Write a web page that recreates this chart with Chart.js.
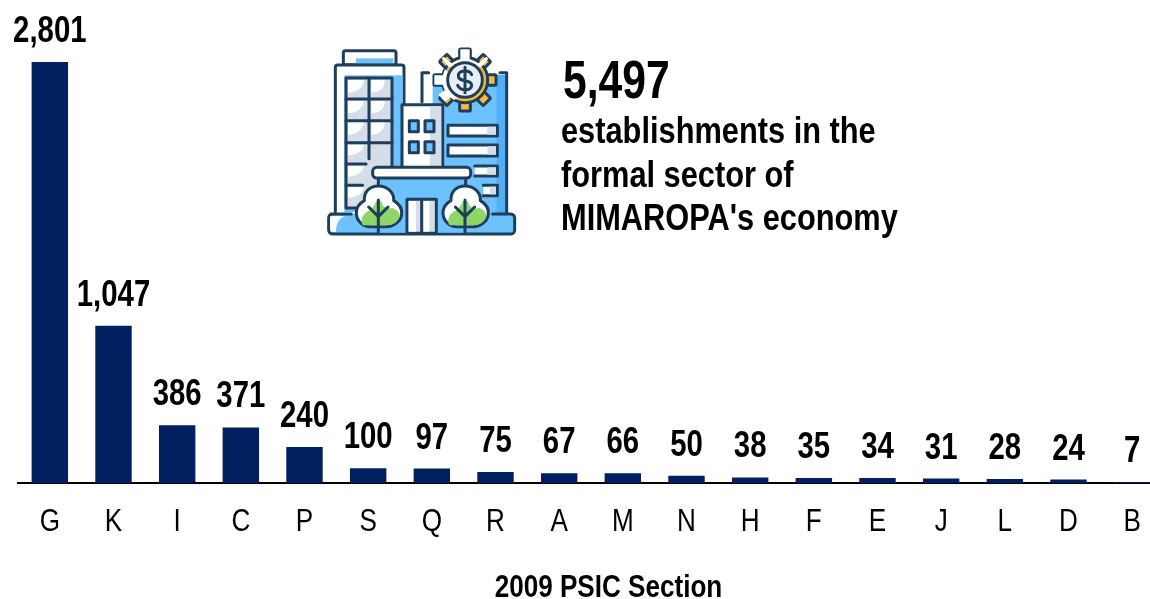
<!DOCTYPE html>
<html><head><meta charset="utf-8">
<script src="https://cdn.jsdelivr.net/npm/chart.js@4"></script>
<style>
html,body{margin:0;padding:0;background:#fff;overflow:hidden;width:1150px;height:599px}
#wrap{position:absolute;left:0;top:0;width:1150px;height:599px;overflow:hidden}
#c{position:absolute;left:0;top:0}
.t{position:absolute;font-family:"Liberation Sans",Arial,sans-serif;font-weight:700;color:#000;white-space:nowrap;transform-origin:0 0}
#icon{position:absolute;left:310px;top:30px;width:220px;height:220px}
</style></head><body><div id="wrap">
<canvas id="c" width="1164" height="607"></canvas>
<svg id="icon" viewBox="0 0 660 660" fill="none" stroke="#1d3f5c" stroke-width="9" stroke-linejoin="round" stroke-linecap="round">
  <defs>
    <g id="tree">
      <path d="M205 468c-28 0-44 20-42 44-16 8-26 24-24 40 2 22 20 38 42 38h48c22 0 44-16 46-38 2-18-10-32-24-40 2-24-18-44-46-44z" fill="#fff"/>
      <path d="M160 586c-10-8-6-30 10-40 18-8 26-24 28-32h16c4 20 16 24 34 20 14 6 24 16 20 28-6 16-20 24-38 24z" fill="#8fd668" stroke="none"/>
      <path d="M205 510V608M205 560l-29-29M205 560l29-29"/>
    </g>
    <rect id="tooth" x="-16" y="-93" width="32" height="34" rx="3" fill="#fdb93b"/>
  </defs>
  <!-- right building -->
  <rect x="368" y="135" width="220" height="420" fill="#6dc1fd" stroke="none"/>
  <rect x="560" y="135" width="28" height="420" fill="#52aef7" stroke="none"/>
  <path d="M336 215V128H356M570 128H590V552"/>
  <!-- tower -->
  <rect x="100" y="62" width="158" height="42" rx="6" fill="#fff"/>
  <rect x="138" y="85" width="112" height="16" fill="#6dc1fd" stroke="none"/>
  <path d="M76 545V112a7 7 0 0 1 7-7H275a7 7 0 0 1 7 7V218" fill="#fff"/>
  <rect x="103" y="136" width="175" height="410" fill="#6dc1fd" stroke="none"/>
  <rect x="108" y="144" width="138" height="390" fill="#d5dee8"/>
  <path d="M114 150h48c-4 26-20 36-48 38zM184 150h40c0 26-14 36-40 38zM114 212h48c-4 24-20 36-48 38zM184 212h40c0 24-14 36-40 38zM114 276h48c-4 24-20 36-48 38zM184 276h40c0 24-14 36-40 38zM114 344h48c-4 20-20 30-48 32zM114 408h48c-4 20-20 30-48 32zM114 472h48c-4 20-20 30-48 32z" fill="#fff" stroke="none"/>
  <path d="M108 207H246M108 272H246M108 338H246M108 402H168M108 466H158M177 144V386"/>
  <!-- middle block -->
  <rect x="276" y="224" width="122" height="190" fill="#fff"/>
  <rect x="360" y="229" width="34" height="182" fill="#d5dee8" stroke="none"/>
  <rect x="298" y="272" width="27" height="33" fill="#6dc1fd"/><rect x="345" y="272" width="27" height="33" fill="#6dc1fd"/>
  <rect x="298" y="335" width="27" height="33" fill="#6dc1fd"/><rect x="345" y="335" width="27" height="33" fill="#6dc1fd"/>
  <!-- strips -->
  <rect x="414" y="286" width="148" height="32" fill="#fff"/><rect x="532" y="290" width="26" height="24" fill="#d5dee8" stroke="none"/>
  <rect x="414" y="345" width="148" height="33" fill="#fff"/><rect x="532" y="349" width="26" height="25" fill="#d5dee8" stroke="none"/>
  <path d="M494 408H562V438H494" fill="#fff"/><rect x="532" y="412" width="26" height="22" fill="#d5dee8" stroke="none"/>
  <path d="M520 466H562V497H520" fill="#fff"/><rect x="540" y="470" width="18" height="23" fill="#d5dee8" stroke="none"/>
  <!-- base -->
  <path d="M62 552h62M548 552h54a12 12 0 0 1 12 12v36a12 12 0 0 1-12 12H68a12 12 0 0 1-12-12v-36a12 12 0 0 1 12-12" fill="#6dc1fd"/>
  <path d="M62 558H105C82 566 78 590 78 606H68a8 8 0 0 1-8-8V566a8 8 0 0 1 2-8z" fill="#fff" stroke="none"/>
  <rect x="205" y="445" width="262" height="163" fill="#6dc1fd" stroke="none"/>
  <path d="M205 445V465M467 445V465"/>
  <!-- canopy -->
  <rect x="188" y="412" width="294" height="32" rx="12" fill="#fff"/>
  <!-- door -->
  <rect x="291" y="508" width="88" height="102" fill="#d5dee8"/>
  <rect x="296" y="513" width="22" height="92" fill="#fff" stroke="none"/>
  <rect x="340" y="513" width="18" height="92" fill="#fff" stroke="none"/>
  <path d="M335 508V610"/>
  <use href="#tree"/><use href="#tree" x="260"/>
  <!-- gear -->
  <g transform="translate(465,150)">
    <use href="#tooth"/><use href="#tooth" transform="rotate(45)"/><use href="#tooth" transform="rotate(90)"/><use href="#tooth" transform="rotate(135)"/>
    <use href="#tooth" transform="rotate(180)"/><use href="#tooth" transform="rotate(225)"/><use href="#tooth" transform="rotate(270)"/><use href="#tooth" transform="rotate(315)"/>
    <circle r="68" fill="#fdb93b"/>
    <path d="M-60-32A68 68 0 0 0-32 60L-20 50A52 52 0 0 1-48-20z" fill="#fff" stroke="none"/>
    <path d="M-14-92H14V-62L40-50 64-70 70-64 50-40-50-40-70-64-64-70-40-50-14-62zM-92-14V14H-62V-14zM-80 44-60 64-40 50-60 30z" fill="#fff" stroke="none"/>
    <circle r="52" fill="#e8eef4"/>
    <path d="M20-16C14-32-20-30-20-12c0 20 40 8 40 28C20 34-14 34-22 16M0-38V38"/>
  </g>
</svg>
<div class="t" id="big" style="left:563px;top:49px;font-size:54px;line-height:60px;transform:scaleX(.79)">5,497</div>
<div class="t" style="left:561px;top:109px;font-size:36px;line-height:43.5px;transform:scaleX(.855)">establishments in the<br>formal sector of<br>MIMAROPA's economy</div>
</div>
<script>
const categories=["G","K","I","C","P","S","Q","R","A","M","N","H","F","E","J","L","D","B"];
const establishments=[2801,1047,386,371,240,100,97,75,67,66,50,38,35,34,31,28,24,7];
const axisTitle="2009 PSIC Section";
const fontName='"Liberation Sans",Arial,sans-serif';
const narrowRatio=.815;
const titleShift=17.5;
const canvas=document.getElementById('c');
const rawCtx=canvas.getContext('2d');
const nativeFill=rawCtx.fillText.bind(rawCtx);
// Arial Narrow is not installed: every canvas text is squeezed horizontally around its anchor.
rawCtx.fillText=function(text,x,y){
  rawCtx.save();rawCtx.translate(text===axisTitle?x+titleShift:x,y);rawCtx.scale(narrowRatio,1);nativeFill(text,0,0);rawCtx.restore();
};
const valueLabels={id:'valueLabels',afterDatasetsDraw(ch){
  const g=ch.ctx,m=ch.getDatasetMeta(0);g.save();
  g.font='700 36px '+fontName;g.fillStyle='#000';g.textAlign='center';g.textBaseline='alphabetic';
  m.data.forEach((b,i)=>g.fillText(establishments[i].toLocaleString('en-US'),b.x,b.y-20));
  g.restore();
}};
new Chart(canvas,{type:'bar',
  data:{labels:categories,datasets:[{data:establishments,backgroundColor:'#002060',borderWidth:0,barPercentage:.572,categoryPercentage:1}]},
  options:{responsive:false,animation:false,events:[],
    layout:{padding:{left:18,right:0,top:0,bottom:0}},
    plugins:{legend:{display:false},tooltip:{enabled:false}},
    scales:{
      x:{grid:{display:false,drawTicks:false},border:{color:'#000',width:2},
         ticks:{color:'#000',padding:20,maxRotation:0,autoSkip:false,font:{family:fontName,size:32}},
         title:{display:true,text:axisTitle,color:'#000',align:'center',font:{family:fontName,size:32,weight:'700'},padding:{top:7,bottom:0}}},
      y:{display:false,min:0,max:3214}
    }},
  plugins:[valueLabels]});
</script>
</body></html>
